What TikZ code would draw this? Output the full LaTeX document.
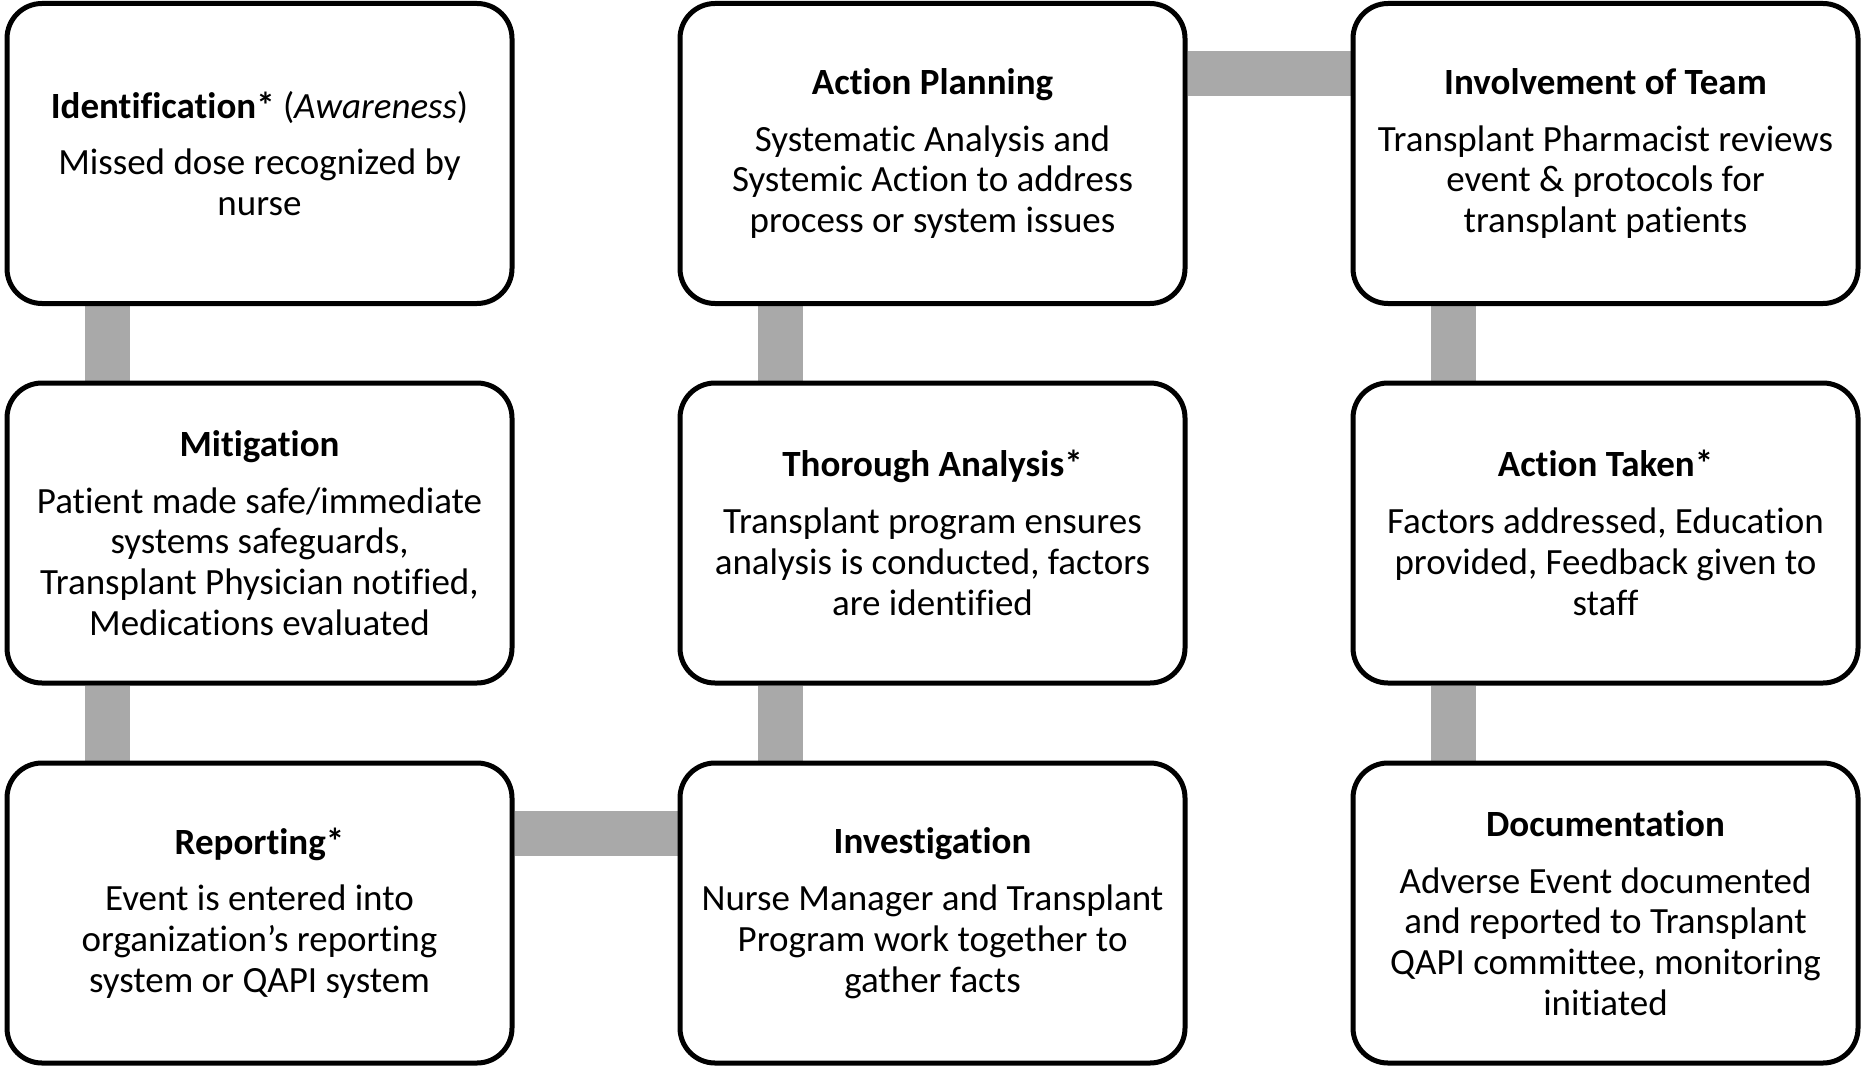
\documentclass[tikz,border=0pt]{standalone}
\usepackage{fontspec}
\setmainfont{Carlito}[Ligatures=NoCommon]
\usetikzlibrary{backgrounds}
\definecolor{conngray}{RGB}{169,169,169}
\tikzset{
  stage/.style={draw=black, line width=5pt, fill=white, rounded corners=35pt,
    minimum width=505pt, minimum height=300pt, align=center, inner sep=0pt,
    font=\fontsize{37}{40.8}\selectfont},
  conn/.style={draw=conngray, line width=45pt}
}
\begin{document}
\begin{tikzpicture}[x=1pt,y=1pt]
\useasboundingbox (0,0) rectangle (1865,-1067);
\node[stage] (ident) at (259.5,-153.5) {\textbf{Identification*} (\textit{Awareness})\\[16pt]Missed dose recognized by\\nurse};
\node[stage] (plan) at (932.5,-153.5) {\textbf{Action Planning}\\[16pt]Systematic Analysis and\\Systemic Action to address\\process or system issues};
\node[stage] (team) at (1605.5,-153.5) {\textbf{Involvement of Team}\\[16pt]Transplant Pharmacist reviews\\event \& protocols for\\transplant patients};
\node[stage] (mitig) at (259.5,-533) {\textbf{Mitigation}\\[16pt]Patient made safe/immediate\\systems safeguards,\\Transplant Physician notified,\\Medications evaluated};
\node[stage] (thor) at (932.5,-533) {\textbf{Thorough Analysis*}\\[16pt]Transplant program ensures\\analysis is conducted, factors\\are identified};
\node[stage] (taken) at (1605.5,-533) {\textbf{Action Taken*}\\[16pt]Factors addressed, Education\\provided, Feedback given to\\staff};
\node[stage] (report) at (259.5,-913) {\textbf{Reporting*}\\[16pt]Event is entered into\\organization’s reporting\\system or QAPI system};
\node[stage] (invest) at (932.5,-913) {\textbf{Investigation}\\[16pt]Nurse Manager and Transplant\\Program work together to\\gather facts};
\node[stage] (docu) at (1605.5,-913) {\textbf{Documentation}\\[16pt]Adverse Event documented\\and reported to Transplant\\QAPI committee, monitoring\\initiated};
\begin{scope}[on background layer]
\draw[conn] ([xshift=103pt]ident.south west) -- ([xshift=103pt]mitig.north west);
\draw[conn] ([xshift=103pt]mitig.south west) -- ([xshift=103pt]report.north west);
\draw[conn] ([yshift=-73pt]report.north east) -- ([yshift=-73pt]invest.north west);
\draw[conn] ([xshift=103pt]invest.north west) -- ([xshift=103pt]thor.south west);
\draw[conn] ([xshift=103pt]thor.north west) -- ([xshift=103pt]plan.south west);
\draw[conn] ([yshift=-73pt]plan.north east) -- ([yshift=-73pt]team.north west);
\draw[conn] ([xshift=103pt]team.south west) -- ([xshift=103pt]taken.north west);
\draw[conn] ([xshift=103pt]taken.south west) -- ([xshift=103pt]docu.north west);
\end{scope}
\end{tikzpicture}
\end{document}
